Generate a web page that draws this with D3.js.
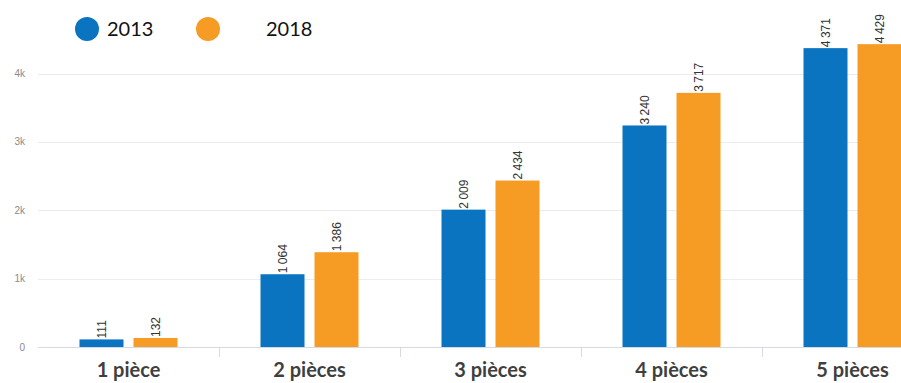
<!DOCTYPE html>
<html>
<head>
<meta charset="utf-8">
<script src="https://cdn.jsdelivr.net/npm/d3@7"></script>
<style>
  html, body { margin: 0; padding: 0; background: #fff; }
  svg { display: block; }
</style>
</head>
<body>
<svg id="chart" width="901" height="383"></svg>
<script>
// Number of dwellings by size (rooms), 2013 vs 2018
const categories = ["1 pièce", "2 pièces", "3 pièces", "4 pièces", "5 pièces"];
const seriesNames = ["2013", "2018"];
const values2013 = [111, 1064, 2009, 3240, 4371];
const values2018 = [132, 1386, 2434, 3717, 4429];
const yTicks = [0, 1000, 2000, 3000, 4000];
const yTickLabels = ["0", "1k", "2k", "3k", "4k"];
const colors = ["#0a74c1", "#f69b24"];

const svg = d3.select("#chart");
const left = 38, bandW = 181;
const baseY = 347;

// The plot continues past the right edge of the page
const x = d3.scaleBand()
  .domain(categories)
  .range([left, left + bandW * categories.length])
  .paddingInner(0).paddingOuter(0);

const y = d3.scaleLinear().domain([0, 4000]).range([baseY, 73.5]);

const sub = d3.scaleBand().domain(seriesNames).range([41.5, 139.5]).paddingInner(10 / 54).paddingOuter(0);

// gridlines
svg.append("g").selectAll("line")
  .data(yTicks.slice(1))
  .join("line")
  .attr("x1", left).attr("x2", 901)
  .attr("y1", d => Math.round(y(d)) + 0.5).attr("y2", d => Math.round(y(d)) + 0.5)
  .attr("stroke", "#ececf0").attr("stroke-width", 1);

// y tick labels
svg.append("g").selectAll("text")
  .data(yTicks)
  .join("text")
  .attr("x", 25).attr("y", d => y(d) + 3.5)
  .attr("text-anchor", "end")
  .attr("font-family", "Liberation Sans, Arial, sans-serif")
  .attr("font-size", 10)
  .attr("fill", "#8a8a8a")
  .text((d, i) => yTickLabels[i]);

// baseline and band separators
svg.append("line")
  .attr("x1", left).attr("x2", 901)
  .attr("y1", baseY + 0.5).attr("y2", baseY + 0.5)
  .attr("stroke", "#d6dae6").attr("stroke-width", 1);

svg.append("g").selectAll("line")
  .data(categories.slice(1))
  .join("line")
  .attr("x1", d => Math.round(x(d)) + 0.5).attr("x2", d => Math.round(x(d)) + 0.5)
  .attr("y1", baseY).attr("y2", baseY + 10)
  .attr("stroke", "#d6dae6").attr("stroke-width", 1);

const rows = categories.map((c, i) => ({ cat: c, vals: [values2013[i], values2018[i]] }));
const fmt = d3.formatLocale({ decimal: ",", thousands: "\u2009", grouping: [3], currency: ["", ""] }).format(",d");

const groups = svg.append("g").selectAll("g")
  .data(rows)
  .join("g")
  .attr("transform", d => `translate(${x(d.cat)},0)`);

groups.selectAll("rect")
  .data(d => d.vals.map((v, j) => ({ s: seriesNames[j], v, j })))
  .join("rect")
  .attr("x", d => sub(d.s))
  .attr("width", sub.bandwidth())
  .attr("y", d => y(d.v))
  .attr("height", d => baseY - y(d.v))
  .attr("fill", d => colors[d.j]);

groups.selectAll("text.val")
  .data(d => d.vals.map((v, j) => ({ s: seriesNames[j], v, j })))
  .join("text")
  .attr("class", "val")
  .attr("transform", d => `translate(${sub(d.s) + sub.bandwidth() / 2 + 4.5},${y(d.v) - 1}) rotate(-90)`)
  .attr("font-family", "Liberation Sans, Arial, sans-serif")
  .attr("font-size", 12)
  .attr("fill", "#333")
  .text(d => fmt(d.v));

// category labels
svg.append("g").selectAll("text")
  .data(categories)
  .join("text")
  .attr("x", d => x(d) + bandW / 2)
  .attr("y", 377)
  .attr("text-anchor", "middle")
  .attr("font-family", "Lato, Open Sans, sans-serif")
  .attr("font-weight", "bold")
  .attr("font-size", 20)
  .attr("fill", "#3f3f3f")
  .text(d => d);

// legend
const legendItems = [
  { name: seriesNames[0], cx: 87, tx: 107, color: colors[0] },
  { name: seriesNames[1], cx: 208, tx: 266, color: colors[1] }
];
const leg = svg.append("g");
leg.selectAll("circle")
  .data(legendItems)
  .join("circle")
  .attr("cx", d => d.cx).attr("cy", 29).attr("r", 12)
  .attr("fill", d => d.color);
leg.selectAll("text")
  .data(legendItems)
  .join("text")
  .attr("x", d => d.tx).attr("y", 36)
  .attr("font-family", "Lato, Open Sans, sans-serif")
  .attr("font-size", 20)
  .attr("fill", "#111")
  .text(d => d.name);
</script>
</body>
</html>
